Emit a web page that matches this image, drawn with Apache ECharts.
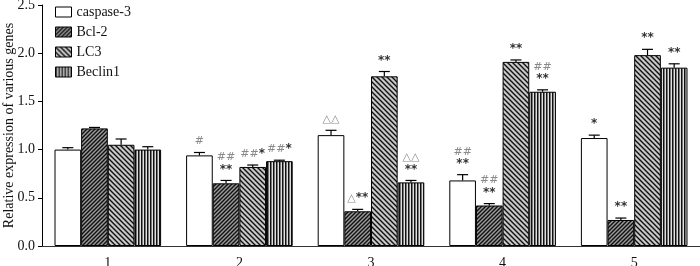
<!DOCTYPE html>
<html>
<head>
<meta charset="utf-8">
<script src="https://cdn.jsdelivr.net/npm/echarts@6/dist/echarts.min.js"></script>
<style>
html, body { margin: 0; padding: 0; background: #fff; }
#main { width: 700px; height: 266px; }
</style>
</head>
<body>
<div id="main"></div>
<script>
var categories = ['1', '2', '3', '4', '5'];
var seriesNames = ['caspase-3', 'Bcl-2', 'LC3', 'Beclin1'];

var caspase3 = [1.00, 0.94, 1.15, 0.68, 1.12];
var caspase3Err = [0.02, 0.03, 0.05, 0.06, 0.03];
var bcl2 = [1.22, 0.65, 0.36, 0.42, 0.27];
var bcl2Err = [0.01, 0.03, 0.02, 0.02, 0.02];
var lc3 = [1.05, 0.82, 1.76, 1.91, 1.98];
var lc3Err = [0.06, 0.02, 0.05, 0.02, 0.06];
var beclin1 = [1.00, 0.88, 0.66, 1.60, 1.85];
var beclin1Err = [0.03, 0.01, 0.02, 0.02, 0.04];

// significance marks above each bar
var caspase3Marks = ['', '#', '△△', '##\n**', '*'];
var bcl2Marks = ['', '##\n**', '△**', '##\n**', '**'];
var lc3Marks = ['', '##*', '**', '**', '**'];
var beclin1Marks = ['', '##*', '△△\n**', '##\n**', '**'];

var yTicks = [0, 0.5, 1.0, 1.5, 2.0, 2.5];

var values = [caspase3, bcl2, lc3, beclin1];
var errs = [caspase3Err, bcl2Err, lc3Err, beclin1Err];
var marks = [caspase3Marks, bcl2Marks, lc3Marks, beclin1Marks];

var GAP = 0.19;

// hatch fills
function makeTile(kind) {
    var c = document.createElement('canvas');
    var ctx;
    if (kind == 'vert') {
        c.width = 3; c.height = 3;
        ctx = c.getContext('2d');
        ctx.fillStyle = '#e0e0e0'; ctx.fillRect(0, 0, 3, 3);
        ctx.fillStyle = '#111'; ctx.fillRect(0, 0, 1, 3);
        ctx.fillStyle = '#777'; ctx.fillRect(1, 0, 1, 3);
        return c;
    }
    var s = kind == 'fwd' ? 4 : 5;
    c.width = s; c.height = s;
    ctx = c.getContext('2d');
    ctx.fillStyle = kind == 'fwd' ? '#9a9a9a' : '#c8c8c8';
    ctx.fillRect(0, 0, s, s);
    ctx.strokeStyle = '#111';
    ctx.lineWidth = 1.4;
    ctx.beginPath();
    if (kind == 'fwd') {
        ctx.moveTo(-1, s + 1); ctx.lineTo(s + 1, -1);
        ctx.moveTo(-1, 1); ctx.lineTo(1, -1);
        ctx.moveTo(s - 1, s + 1); ctx.lineTo(s + 1, s - 1);
    } else {
        ctx.moveTo(-1, -1); ctx.lineTo(s + 1, s + 1);
        ctx.moveTo(s - 1, -1); ctx.lineTo(s + 1, 1);
        ctx.moveTo(-1, s - 1); ctx.lineTo(1, s + 1);
    }
    ctx.stroke();
    return c;
}

var fills = [
    '#ffffff',
    {image: makeTile('fwd'), repeat: 'repeat'},
    {image: makeTile('back'), repeat: 'repeat'},
    {image: makeTile('vert'), repeat: 'repeat'}
];

function markRich(str) {
    return str.split('\n').map(function(line) {
        return line.replace(/([#△]+)|(\*+)/g, function(m, a, b) {
            return a ? '{h|' + a + '}' : '{s|' + b + '}';
        });
    }).join('\n');
}

var errData = [];
var errMarks = [];
for (var si = 0; si < 4; si++) {
    for (var ci = 0; ci < categories.length; ci++) {
        errData.push([ci, values[si][ci], errs[si][ci], si]);
        errMarks.push(marks[si][ci]);
    }
}

function renderErr(params, api) {
    var ci = api.value(0), v = api.value(1), e = api.value(2), si = api.value(3);
    var base = api.coord([ci, v]);
    var top = api.coord([ci, v + e]);
    var band = api.size([1, 0])[0];
    var bw = band * (1 - GAP) / 4;
    var x = base[0] - 2 * bw + (si + 0.5) * bw;
    var st = {stroke: '#000', lineWidth: 1.2};
    var children = [
        {type: 'line', shape: {x1: x, y1: base[1], x2: x, y2: top[1]}, style: st},
        {type: 'line', shape: {x1: x - 5.5, y1: top[1], x2: x + 5.5, y2: top[1]}, style: st}
    ];
    var m = errMarks[params.dataIndex];
    if (m) {
        children.push({
            type: 'text',
            x: x, y: top[1] - 5,
            style: {
                text: markRich(m),
                align: 'center',
                verticalAlign: 'bottom',
                lineHeight: 12,
                rich: {
                    h: {fill: '#8a8a8a', fontSize: 11, fontFamily: 'DejaVu Sans', lineHeight: 12},
                    s: {fill: '#333', fontSize: 12, fontWeight: 'bold', fontFamily: 'DejaVu Sans', lineHeight: 12}
                }
            }
        });
    }
    return {type: 'group', children: children};
}

var series = [];
for (var i = 0; i < 4; i++) {
    series.push({
        name: seriesNames[i],
        type: 'bar',
        data: values[i],
        barGap: 0,
        barCategoryGap: (GAP * 100) + '%',
        itemStyle: {color: fills[i], borderColor: '#000', borderWidth: 1},
        emphasis: {disabled: true},
        animation: false
    });
}
series.push({
    type: 'custom',
    renderItem: renderErr,
    data: errData,
    encode: {x: 0, y: 1},
    z: 5,
    silent: true,
    animation: false
});

var myChart = echarts.init(document.getElementById('main'), null, {renderer: 'canvas'});
myChart.setOption({
    animation: false,
    textStyle: {fontFamily: 'Liberation Serif'},
    grid: {left: 42, right: 0, top: 5, bottom: 20, containLabel: false, outerBoundsMode: 'none'},
    legend: {
        data: seriesNames,
        orient: 'vertical',
        left: 50, top: 0,
        itemWidth: 16, itemHeight: 10,
        itemGap: 6,
        icon: 'rect',
        textStyle: {fontFamily: 'Liberation Serif', fontSize: 14, color: '#111'},
        itemStyle: {borderColor: '#000', borderWidth: 1},
        selectedMode: false
    },
    xAxis: {
        type: 'category',
        data: categories,
        axisLine: {lineStyle: {color: '#333', width: 1}},
        axisTick: {show: false},
        axisLabel: {fontFamily: 'Liberation Serif', fontSize: 14, color: '#111', margin: 10}
    },
    yAxis: {
        type: 'value',
        min: yTicks[0], max: yTicks[yTicks.length - 1], interval: 0.5,
        name: 'Relative expression of various genes',
        nameLocation: 'middle',
        nameGap: 26,
        nameMoveOverlap: false,
        nameTextStyle: {fontFamily: 'Liberation Serif', fontSize: 14, color: '#111'},
        axisLine: {show: true, lineStyle: {color: '#000', width: 1}},
        axisTick: {show: true, length: 4, lineStyle: {color: '#000'}},
        splitLine: {show: false},
        axisLabel: {
            fontFamily: 'Liberation Serif', fontSize: 14, color: '#111', margin: 7,
            formatter: function(v) { return v.toFixed(1); }
        }
    },
    series: series
});
</script>
</body>
</html>
